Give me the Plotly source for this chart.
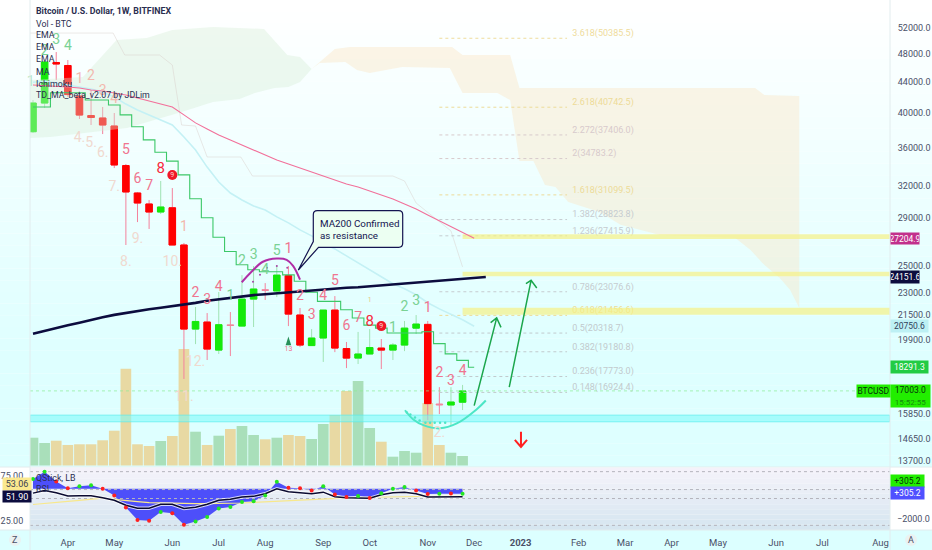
import math

import pandas as pd
import plotly.graph_objects as go

W, H = 932, 550
PLOT_L, PLOT_R = 30, 890
PRICE_BOTTOM, OSC_TOP, OSC_BOTTOM = 467, 468, 530
FIRST_WEEK = pd.Timestamp("2022-03-14")
DAY_PX = 11.61 / 7

# weekly candles, Mar 14 2022 onwards
opens = [37780, 41270, 46760, 46330, 42170, 39710, 39410, 38450, 34040, 31280, 30240, 29500, 29890,
         26650, 20570, 21020, 19280, 20840, 20760, 22560, 23220, 23130, 24250, 21480, 19550, 20010,
         21810, 19370, 18810, 19050, 19400, 19280, 19580, 20630, 20870, 16330, 16280, 16420]
highs = [41660, 46830, 48290, 47120, 42430, 42960, 40770, 40020, 34210, 31380, 30610, 32460, 31760,
         26820, 22020, 21610, 23060, 21680, 24290, 24980, 23700, 25050, 24980, 21950, 20570, 21810,
         22770, 19770, 20390, 20570, 19950, 19700, 21090, 21480, 21090, 17200, 17200, 17320]
lows = [37630, 40640, 44300, 42040, 39290, 38570, 37510, 33780, 26650, 28600, 28000, 29320, 26650,
        17640, 19640, 18700, 19050, 18930, 20760, 20700, 22500, 22700, 20760, 19460, 19550, 18590,
        19160, 18240, 18470, 19050, 18190, 18700, 19220, 20260, 15540, 15830, 15300, 16030]
closes = [41270, 46830, 46540, 42360, 39770, 39470, 38570, 34100, 31380, 30330, 29500, 29960, 26650,
          20570, 21060, 19340, 20850, 20800, 22560, 23270, 23180, 24290, 21540, 19580, 20010, 21810,
          19400, 18810, 19050, 19430, 19280, 19580, 20630, 20890, 16350, 16290, 16430, 17003]
doji_weeks = [17, 20, 35]

volume = [27.8, 22.5, 24.8, 20.5, 21.2, 21.2, 25.2, 34.8, 96.8, 21.2, 19.5, 24.5, 29.5, 116.5, 33.8,
          20.5, 29.8, 36.5, 39.5, 30.5, 26.2, 27.8, 30.5, 29.5, 26.5, 41.5, 50.5, 74.5, 84.5, 37.5,
          23.8, 8.8, 14.5, 12.8, 62.5, 20.5, 12.8, 9.5]
volume_up_weeks = [0, 1, 11, 14, 16, 18, 19, 21, 24, 25, 28, 29, 31, 32, 33, 36, 37]

ema_line = [44000, 44160, 43890, 43620, 43350, 43090, 42700, 42040, 41140, 40400, 39790, 39170, 38570,
            37180, 35710, 33880, 32360, 31280, 30610, 30060, 29690, 29060, 28530, 27920, 27410, 26820,
            26330, 25770, 25240, 24690, 24170, 23650, 23290, 22860, 22310, 21890, 21540, 21170, 20750]
ma_line = [43620, 43550, 43490, 43350, 43220, 42960, 42830, 42570, 42310, 41920, 41530, 41140, 40770,
           39790, 38820, 38110, 37390, 36840, 36280, 35710, 35170, 34620, 34200, 33780, 33370, 32960,
           32560, 32160, 31860, 31470, 31090, 30700, 30240, 29780, 29240, 28700, 28180, 27650, 27205]
ma200_line = [20280, 20470, 20660, 20810, 20980, 21170, 21330, 21490, 21630, 21760, 21860, 21970, 22070,
              22170, 22300, 22450, 22550, 22660, 22770, 22840, 22900, 22970, 23040, 23100, 23150, 23220,
              23290, 23360, 23400, 23470, 23540, 23620, 23660, 23730, 23800, 23880, 23950, 24020, 24100,
              24152]
td_step = [40770, 40770, 42600, 42600, 42600, 41660, 41660, 41020, 39790, 38360, 36840, 35460, 34510,
           33080, 30730, 28980, 27290, 26120, 25080, 24690, 24540, 24540, 24310, 23830, 23040, 22400,
           22400, 21830, 21280, 20820, 20630, 20320, 20320, 20320, 20400, 19670, 19060, 18680, 18291]

lag_weeks = [-0.26, 6.9, 7.9, 10.9, 12, 12.8, 14, 15, 17.9, 18.9, 31, 32, 33, 35.1, 36, 37]
lag_prices = [51200, 51200, 47850, 47850, 46400, 38570, 38450, 34950, 34950, 32960, 32960, 32460, 30330,
              28600, 27830, 24910]

cloud_green_weeks = [-0.26, 4.3, 7.2, 9.8, 12, 15.5, 19.9, 21.9, 23, 24,
                     23, 22, 20.8, 19.1, 17.8, 15.5, 12.8, 9.5, 8.1, 1.5, -0.26]
cloud_green_prices = [44300, 44720, 50110, 50420, 51680, 52160, 51840, 47850, 47560, 45830,
                      44030, 43360, 43230, 42570, 41780, 41400, 40140, 38820, 38210, 37170, 37050]
cloud_orange_weeks = [24, 26, 27.3, 36.1, 37, 41.1, 41.9, 62.2, 63, 66,
                      66, 65.2, 64.3, 63, 61.8, 60.5, 54, 50.6, 48.8, 46.1, 45, 44.1, 43.1, 41.9, 41.1,
                      40, 37, 35.9, 31.8, 29, 27.9, 26.9, 24.7, 24]
cloud_orange_prices = [45830, 48740, 49050, 49050, 47850, 47850, 43230, 43230, 42300, 42170,
                       21950, 23220, 24100, 25050, 26250, 27240, 27490, 28360, 29500, 30420, 31860, 32060,
                       34510, 34510, 41660, 42570, 42570, 45970, 46110, 45270, 45690, 46830, 46680, 45830]

fib_ratios = ["3.618", "2.618", "2.272", "2", "1.618", "1.382", "1.236", "0.786", "0.618", "0.5", "0.382",
              "0.236", "0.148"]
fib_prices = [50385.5, 40742.5, 37406.0, 34783.2, 31099.5, 28823.8, 27415.9, 23076.6, 21456.6, 20318.7,
              19180.8, 17773.0, 16924.4]
fib_colors = ["#efdc9c", "#eddb98", "#d8cacc", "#d8cacc", "#eddb98", "#c6ccd0", "#c6ccd0", "#c6ccd0",
              "#eddb98", "#c2cacd", "#c2cacd", "#c2cacd", "#c2cacd"]

band_lows = [27150, 24200, 21490]
band_highs = [27540, 24540, 21970]
teal_low, teal_high = 15460, 15780

td_green_weeks = [1, 2, 3, 17, 18, 19, 20, 21, 31, 32, 33]
td_green_prices = [48440, 50110, 49050, 22710, 25310, 25770, 24620, 26090, 20630, 21970, 22380]
td_green_labels = ["2", "3", "4", "1", "2", "3", "4", "5", "1", "2", "3"]
td_pink_weeks = [8, 9, 10, 14, 15, 16, 22, 23, 24, 25, 26, 27, 28, 34, 35, 36, 37]
td_pink_prices = [35710, 32560, 31950, 22930, 22450, 23360, 26250, 22710, 21430, 22710, 23800, 20760,
                  21240, 21900, 17940, 17500, 18050]
td_pink_labels = ["5", "6", "7", "2", "3", "4", "1", "2", "3", "4", "5", "6", "7", "1", "2", "3", "4"]
td_soft_weeks = [4, 5, 6, 7, 13]
td_soft_prices = [44430, 44720, 42700, 41660, 28090]
td_soft_labels = ["1", "2", "3", "4", "1"]
td_faded_weeks = [4, 5, 6, 7, 8, 9, 12, 13, 14, 35]
td_faded_prices = [37050, 36480, 35380, 31860, 25240, 27080, 25240, 16660, 18550, 14890]
td_faded_labels = ["4.", "5.", "6.", "7.", "8.", "9.", "10.", "11.", "12.", "2."]
td_red_weeks = [11, 29]
td_red_prices = [33670, 21000]
td_nine_weeks = [12, 30]
td_nine_prices = [33060, 20760]

purple_arc_weeks = [17.98, 18.84, 19.8, 21, 21.85, 22.4, 23]
purple_arc_prices = [23760, 24560, 25310, 25560, 25460, 24990, 23950]
purple_dot_weeks = [18.95, 19.55, 20.15, 21, 21.9]
purple_dot_prices = [23800, 24310, 24840, 24980, 24840]
smile_weeks = [32.04, 32.76, 33.62, 35.06, 36.5, 38.2, 39]
smile_prices = [16020, 15570, 15300, 15150, 15380, 16060, 16510]
smile_dot_weeks = [32.2, 32.5, 32.9, 33.3, 33.8, 34.2, 34.6, 35.06, 35.5]
smile_dot_prices = [15910, 15810, 15670, 15520, 15420, 15420, 15420, 15420, 15420]
arrow1_weeks = [38.0, 39.94, 39.42, 39.94, 40.31]
arrow1_prices = [16250, 21290, 20980, 21290, 20680]
arrow2_weeks = [41.02, 42.9, 42.46, 42.9, 43.39]
arrow2_prices = [17200, 23900, 23660, 23900, 23340]
down_arrow_weeks = [42.03, 42.03, 41.5, 42.03, 42.55]
down_arrow_prices = [14990, 14310, 14620, 14310, 14620]

# oscillator pane
qstick = [71.7, 80.0, 69.1, 61.4, 63.6, 64.7, 60.8, 53.4, 40.0, 26.1, 25.0, 34.8, 33.4, 20.6, 24.2, 29.4,
          38.9, 40.6, 46.1, 46.9, 53.4, 68.8, 61.9, 61.4, 58.9, 63.6, 54.5, 51.6, 52.7, 50.5, 56.0, 60.8,
          63.0, 58.9, 54.9, 55.3, 55.6, 55.3]
qstick_up = [1, 1, 0, 0, 1, 1, 0, 0, 0, 0, 0, 1, 0, 0, 1, 1, 1, 1, 1, 1, 1, 1, 0, 0, 0, 1, 0, 0, 1, 0, 1, 1,
             1, 0, 0, 1, 0, 1]
rsi = [56.0, 58.9, 56.4, 52.7, 53.1, 53.1, 50.9, 48.0, 42.5, 39.2, 39.2, 43.6, 43.6, 38.9, 40.3, 43.6, 48.0,
       49.1, 51.6, 52.4, 55.3, 60.8, 57.5, 56.7, 55.3, 57.1, 52.0, 50.9, 50.5, 50.2, 54.2, 56.4, 57.1, 55.3,
       51.6, 51.8, 52.0, 51.9]
rsi_ma = [43.3, 44.7, 45.8, 46.9, 48.0, 49.1, 50.5, 49.0, 47.5, 46.5, 45.5, 45.0, 44.5, 44.3, 44.2, 44.2,
          44.3, 44.6, 45.0, 45.6, 46.2, 46.9, 47.5, 48.2, 49.0, 49.8, 50.5, 51.0, 51.2, 51.4, 51.7, 52.0, 52.3,
          52.6, 52.8, 52.9, 53.0, 53.06]
qstick_base = 60.8
osc_levels = [80, 60, 50, 20]

price_ticks = [52000, 48000, 44000, 40000, 36000, 32000, 29000, 25000, 23000, 21500, 19900, 15850, 14650, 13700]
month_dates = ["2022-04-04", "2022-05-02", "2022-06-06", "2022-07-04", "2022-08-01", "2022-09-05", "2022-10-03",
               "2022-11-07", "2022-12-05", "2023-01-02", "2023-02-06", "2023-03-06", "2023-04-03", "2023-05-01",
               "2023-06-05", "2023-07-03", "2023-08-07"]
month_labels = ["Apr", "May", "Jun", "Jul", "Aug", "Sep", "Oct", "Nov", "Dec", "<b>2023</b>", "Feb", "Mar",
                "Apr", "May", "Jun", "Jul", "Aug"]

FONT = "Roboto"
TEXT = "#4a5068"
NAVY = "#0c0c3e"


def week(w):
    return FIRST_WEEK + pd.Timedelta(days=7 * w)


def weeks(values):
    return [week(w) for w in values]


def px(x):
    return x / W


def py(y):
    return 1 - y / H


def blend(c0, c1, t):
    return "rgb(%d,%d,%d)" % tuple(round(a + (b - a) * t) for a, b in zip(c0, c1))


all_weeks = list(range(len(opens)))
left_wk, right_wk = -0.26, 73.8
fig = go.Figure()

# volume, on the bottom axis so the price traces sit over it
vol_colors = ["#a9dfba" if i in volume_up_weeks else "#e8d9a3" for i in all_weeks]
fig.add_trace(go.Bar(x=weeks(all_weeks), y=volume, marker=dict(color=vol_colors, line_width=0),
                     width=6.45 * 86400000, yaxis="y"))


def price_line(x, y, color, width=1.0, dash="solid", shape="linear", **kw):
    fig.add_trace(go.Scatter(x=weeks(x), y=y, mode="lines", yaxis="y2",
                             line=dict(color=color, width=width, dash=dash, shape=shape), **kw))


def price_text(x, y, labels, color, size=14):
    fig.add_trace(go.Scatter(x=weeks(x), y=y, mode="text", text=labels, yaxis="y2", cliponaxis=False,
                             textposition="middle center", textfont=dict(family=FONT, size=size, color=color)))


# cloud + lagging line
fig.add_trace(go.Scatter(x=weeks(cloud_green_weeks), y=cloud_green_prices, mode="lines", fill="toself", yaxis="y2",
                         line_width=0, fillcolor="rgba(214,236,214,0.38)"))
fig.add_trace(go.Scatter(x=weeks(cloud_orange_weeks), y=cloud_orange_prices, mode="lines", fill="toself", yaxis="y2",
                         line_width=0, fillcolor="rgba(250,228,195,0.42)"))
price_line(lag_weeks, lag_prices, "rgba(215,205,200,0.45)", 1)

# fib levels
for ratio, value, color in zip(fib_ratios, fib_prices, fib_colors):
    price_line([35, 46], [value, value], color, 1, "dot")
    fig.add_trace(go.Scatter(x=[week(46.45)], y=[value], mode="text", yaxis="y2", text=[f"{ratio}({value:.1f})"],
                             textposition="top right", textfont=dict(family=FONT, size=9, color=color)))

# horizontal zones
for lo, hi in zip(band_lows, band_highs):
    fig.add_trace(go.Scatter(x=weeks([37, right_wk, right_wk, 37, 37]), y=[lo, lo, hi, hi, lo], mode="lines",
                             fill="toself", yaxis="y2", line_width=0, fillcolor="rgba(246,240,130,0.68)"))
fig.add_trace(go.Scatter(x=weeks([left_wk, right_wk, right_wk, left_wk, left_wk]),
                         y=[teal_low, teal_low, teal_high, teal_high, teal_low], mode="lines", fill="toself", yaxis="y2",
                         line=dict(color="rgba(90,236,236,0.7)", width=1), fillcolor="rgba(120,250,250,0.55)"))
price_line([left_wk, 71], [closes[-1], closes[-1]], "rgba(140,236,150,0.7)", 1, "dot")

price_line(all_weeks + [38], ema_line, "#c4f1f5", 1.6)
price_line(all_weeks + [38], ma_line, "#f2709a", 1.1)
price_line(all_weeks + [38], td_step, "#3cc868", 1.1, shape="hvh")
price_line(all_weeks + [38, 39], ma200_line, NAVY, 2.6)

# candles: wicks first, solid bodies on top
fig.add_trace(go.Candlestick(
    x=weeks(all_weeks), open=opens, high=highs, low=lows, close=closes, yaxis="y2", whiskerwidth=0,
    increasing=dict(line=dict(color="#9fe3b3", width=1), fillcolor="rgba(0,0,0,0)"),
    decreasing=dict(line=dict(color="#f4829c", width=1), fillcolor="rgba(0,0,0,0)")))
body_weeks = [i for i in all_weeks if i not in doji_weeks]
body_o = [opens[i] for i in body_weeks]
body_c = [closes[i] for i in body_weeks]
fig.add_trace(go.Candlestick(
    x=weeks(body_weeks), open=body_o, close=body_c, yaxis="y2", whiskerwidth=0,
    high=[max(a, b) for a, b in zip(body_o, body_c)], low=[min(a, b) for a, b in zip(body_o, body_c)],
    increasing=dict(line=dict(color="#14ea0a", width=1), fillcolor="#14ea0a"),
    decreasing=dict(line=dict(color="#ff0000", width=1), fillcolor="#ff0000")))

# drawings
price_line(purple_arc_weeks, purple_arc_prices, "#b02ea6", 2, shape="spline")
fig.add_trace(go.Scatter(x=weeks(purple_dot_weeks), y=purple_dot_prices, mode="markers", yaxis="y2",
                         marker=dict(color="#a845a8", size=2)))
price_line(smile_weeks, smile_prices, "#4de6c6", 2, shape="spline")
fig.add_trace(go.Scatter(x=weeks(smile_dot_weeks), y=smile_dot_prices, mode="markers", yaxis="y2",
                         marker=dict(color="#4de6c6", size=2.5)))
price_line(arrow1_weeks, arrow1_prices, "#1ba64c", 1.5)
price_line(arrow2_weeks, arrow2_prices, "#1ba64c", 1.5)
price_line(down_arrow_weeks, down_arrow_prices, "#ff2020", 2)

# TD counts
price_text([-0.2], [44030], ["1"], "#b8e6c4")
price_text(td_green_weeks, td_green_prices, td_green_labels, "#7ad294")
price_text(td_pink_weeks, td_pink_prices, td_pink_labels, "#f0758f")
price_text(td_soft_weeks, td_soft_prices, td_soft_labels, "#f2b8ae")
price_text(td_faded_weeks, td_faded_prices, td_faded_labels, "#f0d9cf")
price_text(td_red_weeks, td_red_prices, ["8", "8"], "#f8283c", 15)
fig.add_trace(go.Scatter(x=weeks(td_nine_weeks), y=td_nine_prices, mode="markers+text", yaxis="y2", text=["9", "9"],
                         textposition="middle center", textfont=dict(family=FONT, size=7, color="#ffd0d0"),
                         marker=dict(color="#f01828", size=10)))
price_text([22], [19310], ["13"], "#f0758f", 7)
price_text([29], [22450], ["1"], "#e8c880", 7)
fig.add_trace(go.Scatter(x=[week(22)], y=[20100], mode="markers", yaxis="y2",
                         marker=dict(symbol="arrow", color="#26905a", size=9, line_width=0)))

# oscillator
fig.add_trace(go.Scatter(x=weeks(all_weeks), y=[qstick_base] * len(all_weeks), mode="lines", line_width=0, yaxis="y3"))
fig.add_trace(go.Scatter(x=weeks(all_weeks), y=qstick, mode="lines", line_width=0, fill="tonexty",
                         fillcolor="#4d4ffa", yaxis="y3"))
for level in osc_levels:
    fig.add_trace(go.Scatter(x=weeks([left_wk, right_wk]), y=[level, level], mode="lines", yaxis="y3",
                             line=dict(color="#b4b4bc", width=1, dash="3px,3px")))
fig.add_trace(go.Scatter(x=weeks(all_weeks), y=rsi_ma, mode="lines", yaxis="y3",
                         line=dict(color="#f8e88c", width=1.2)))
fig.add_trace(go.Scatter(x=weeks(all_weeks), y=rsi, mode="lines", yaxis="y3",
                         line=dict(color="rgba(255,255,255,0.75)", width=3.5)))
fig.add_trace(go.Scatter(x=weeks(all_weeks), y=rsi, mode="lines", yaxis="y3", line=dict(color="#0a0a30", width=1.5)))
fig.add_trace(go.Scatter(x=weeks(all_weeks), y=qstick, mode="markers", yaxis="y3",
                         marker=dict(size=4, color=["#22e622" if u else "#ff2020" for u in qstick_up])))

# pane backgrounds
shapes = []
STEPS = 40
for i in range(STEPS):
    y0, y1 = PRICE_BOTTOM * i / STEPS, PRICE_BOTTOM * (i + 1) / STEPS
    shapes.append(dict(type="rect", xref="paper", yref="paper", layer="below", line_width=0, x0=0, x1=1,
                       y0=py(y1), y1=py(y0), fillcolor=blend((255, 255, 255), (222, 255, 255), min(1, (i / STEPS) * 1.35))))
for i in range(12):
    y0 = OSC_TOP + (OSC_BOTTOM - OSC_TOP) * i / 12
    y1 = OSC_TOP + (OSC_BOTTOM - OSC_TOP) * (i + 1) / 12
    shapes.append(dict(type="rect", xref="paper", yref="paper", layer="below", line_width=0, x0=px(PLOT_L), x1=px(PLOT_R),
                       y0=py(y1), y1=py(y0), fillcolor=blend((244, 242, 250), (214, 230, 240), i / 11)))
shapes.append(dict(type="rect", xref="paper", yref="paper", layer="below", line_width=0, x0=0, x1=1,
                   y0=0, y1=py(OSC_BOTTOM), fillcolor="#dcffff"))
for y in (PRICE_BOTTOM, OSC_BOTTOM):
    shapes.append(dict(type="line", xref="paper", yref="paper", x0=0, x1=1, y0=py(y), y1=py(y),
                       line=dict(color="#e2ecee", width=1)))
for x in (PLOT_L, PLOT_R):
    shapes.append(dict(type="line", xref="paper", yref="paper", x0=px(x), x1=px(x), y0=0, y1=1,
                       line=dict(color="#e2ecee", width=1)))
# Z / A buttons
for cx in (15, 911):
    shapes.append(dict(type="circle", xref="paper", yref="paper", layer="below", fillcolor="#eaf2f2", line_width=0,
                       x0=px(cx - 6), x1=px(cx + 6), y0=py(546), y1=py(534)))
# callout with its tail
L, R, T, B, r = 313.3, 402.7, 210.7, 247.3, 4
path = (f"M {px(L + r)} {py(T)} L {px(R - r)} {py(T)} Q {px(R)} {py(T)} {px(R)} {py(T + r)} "
        f"L {px(R)} {py(B - r)} Q {px(R)} {py(B)} {px(R - r)} {py(B)} L {px(318.5)} {py(B)} L {px(298.3)} {py(270)} "
        f"L {px(L)} {py(241.5)} L {px(L)} {py(T + r)} Q {px(L)} {py(T)} {px(L + r)} {py(T)} Z")
shapes.append(dict(type="path", xref="paper", yref="paper", path=path, fillcolor="#ecfff2",
                   line=dict(color="#141450", width=1.2)))

annotations = []


def note(x, y, text, size=9.0, color=TEXT, anchor="left", **kw):
    annotations.append(dict(xref="paper", yref="paper", x=px(x), y=py(y), text=text, showarrow=False, xanchor=anchor,
                            yanchor="middle", font=dict(family=FONT, size=size, color=color), **kw))


def tag(x0, x1, y0, y1, text, bg, color, size=8.5):
    note(x0, (y0 + y1) / 2, text, size, color, width=x1 - x0, height=y1 - y0, bgcolor=bg, align="center", borderpad=0)


legend_rows = ["<b>Bitcoin / U.S. Dollar, 1W, BITFINEX</b>", "Vol - BTC", "EMA", "EMA", "EMA", "MA", "Ichimoku",
               "TD_MA_beta_v2.07 by JDLim"]
for row, y in zip(legend_rows, [11, 23.5, 35, 47, 59.5, 71.5, 84, 95.5]):
    note(34, y, row, 8.8, "#2a2e50")
note(34, 477.5, "QStick, LB", 8.8, "#2a2e50")
note(34, 489, "RSI", 8.8, "#2a2e50")
note(317.5, 223, "MA200 Confirmed", 9.8, "#141450")
note(317.5, 235, "as resistance", 9.8, "#141450")

tag(890, 918, 233, 244, "27204.9", "#c2308c", "#ffffff")
tag(890, 918, 271.5, 283, "24151.6", NAVY, "#ffffff")
tag(890, 927, 320, 332, "20750.6", "#bdf0f4", "#30405a")
tag(890, 927, 361, 373, "18291.3", "#22cc44", "#ffffff")
tag(856, 889, 385, 396.5, "BTCUSD", "#22ee00", "#06300a")
tag(890, 929, 385, 407, "17003.0<br><span style='color:#148a10;font-size:8px'>15:52:55</span>", "#22ee00", "#06300a")
tag(890, 923, 475, 487, "+305.2", "#22ee00", "#06300a")
tag(890, 923, 487, 499, "+305.2", "#5050ff", "#ffffff")
tag(2, 30, 478.3, 490.5, "53.06", "#fbe98f", "#3a4050", 9)
tag(2, 30, 490.5, 501.7, "51.90", NAVY, "#ffffff", 9)
note(895, 519.3, "\u22122000.0", 9, TEXT)
note(15, 540, "Z", 9, TEXT, "center")
note(911, 540, "A", 9, TEXT, "center")

fig.update_layout(
    width=W, height=H, margin=dict(l=0, r=0, t=0, b=0, autoexpand=False), showlegend=False, hovermode=False,
    paper_bgcolor="#ffffff", plot_bgcolor="rgba(0,0,0,0)", boxgap=0.2, barmode="overlay",
    shapes=shapes, annotations=annotations, font=dict(family=FONT, size=10, color=TEXT),
    xaxis=dict(domain=[px(PLOT_L), px(PLOT_R)], anchor="y3", type="date", showgrid=False, zeroline=False,
               rangeslider=dict(visible=False), ticks="outside", ticklen=4, tickcolor="rgba(0,0,0,0)",
               tickmode="array", tickvals=month_dates, ticktext=month_labels,
               range=[FIRST_WEEK + pd.Timedelta(days=(PLOT_L - 33) / DAY_PX),
                      FIRST_WEEK + pd.Timedelta(days=(PLOT_R - 33) / DAY_PX)],
               tickfont=dict(family=FONT, size=9.5, color=TEXT)),
    yaxis=dict(domain=[py(PRICE_BOTTOM), 1], anchor="x", range=[-1.5, 465.5], visible=False, fixedrange=True),
    yaxis2=dict(overlaying="y", anchor="x", side="right", type="log",
                range=[math.log10(13450), math.log10(56686)], showgrid=False, zeroline=False,
                ticks="outside", ticklen=5, tickcolor="rgba(0,0,0,0)",
                tickmode="array", tickvals=price_ticks, ticktext=[f"{v:.1f}" for v in price_ticks],
                tickfont=dict(family=FONT, size=9, color=TEXT)),
    yaxis3=dict(domain=[py(OSC_BOTTOM), py(OSC_TOP)], anchor="x", side="left", range=[14.8, 84.1], showgrid=False,
                zeroline=False, ticks="outside", ticklen=4, tickcolor="rgba(0,0,0,0)", tickmode="array",
                tickvals=[75, 25], ticktext=["75.00", "25.00"], tickfont=dict(family=FONT, size=9, color=TEXT)),
)

fig.write_html("out.html", config={"displayModeBar": False},
               post_script="document.body.style.margin='0';document.body.style.overflow='hidden';")
